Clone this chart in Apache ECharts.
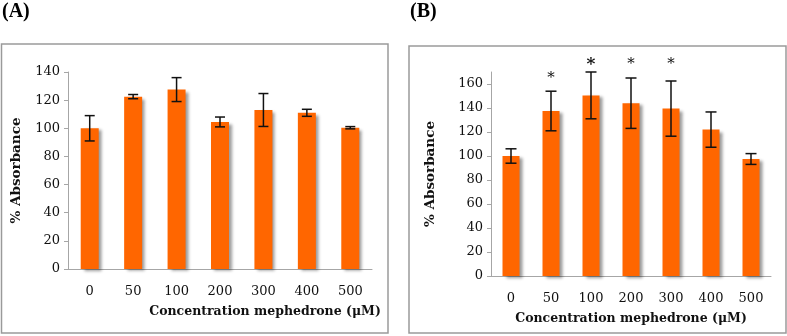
<!DOCTYPE html>
<html>
<head>
<meta charset="utf-8">
<script src="https://cdn.jsdelivr.net/npm/echarts@6/dist/echarts.min.js"></script>
<style>
html,body{margin:0;padding:0;background:#fff;}
#chart{width:787px;height:336px;}
</style>
</head>
<body>
<div id="chart"></div>
<script>
const categories = ['0', '50', '100', '200', '300', '400', '500'];
const valuesA = [100, 122.5, 127.5, 104.5, 113, 111, 100.4];
const errorsA = [9, 1.5, 8.5, 3.5, 11.7, 2.5, 0.8];
const valuesB = [100, 137.5, 150.5, 144, 139.5, 122, 97.5];
const errorsB = [6, 16.5, 19.5, 21, 23, 14.7, 4.5];
const starPosB = [null, 164.5, 176.5, 176.5, 176.5, null, null];
const yTicksA = { min: 0, max: 140, interval: 20 };
const yTicksB = { min: 0, max: 170, interval: 20 };
const panelLabels = ['(A)', '(B)'];
const xTitle = 'Concentration mephedrone (μM)';
const yTitle = '% Absorbance';

const orange = '#FF6600';
const axisGrey = '#a6a6a6';
const serif = 'DejaVu Serif';

function errData(vals, errs) {
  return vals.map((v, i) => [i, v - errs[i], v + errs[i]]);
}
function errRender(capHalf) {
  return function (params, api) {
    const x = api.value(0);
    const lo = api.coord([x, api.value(1)]);
    const hi = api.coord([x, api.value(2)]);
    const st = { stroke: '#111', lineWidth: 1.5 };
    return {
      type: 'group',
      children: [
        { type: 'line', shape: { x1: lo[0], y1: lo[1], x2: hi[0], y2: hi[1] }, style: st },
        { type: 'line', shape: { x1: lo[0] - capHalf, y1: lo[1], x2: lo[0] + capHalf, y2: lo[1] }, style: st },
        { type: 'line', shape: { x1: hi[0] - capHalf, y1: hi[1], x2: hi[0] + capHalf, y2: hi[1] }, style: st }
      ]
    };
  };
}

function xAxisCfg(gridIndex, pad) {
  return {
    type: 'category', gridIndex, data: categories,
    axisLine: { lineStyle: { color: axisGrey, width: 1 } },
    axisTick: { show: false },
    axisLabel: { color: '#111', fontFamily: serif, fontSize: 13, margin: 16 },
    name: xTitle, nameLocation: 'middle', nameGap: 36,
    nameTextStyle: { fontFamily: serif, fontWeight: 'bold', fontSize: 12.5, color: '#111', padding: pad }
  };
}
function yAxisCfg(gridIndex, t, gap) {
  return {
    type: 'value', gridIndex, min: t.min, max: t.max, interval: t.interval,
    splitLine: { show: false },
    axisLine: { show: true, lineStyle: { color: axisGrey, width: 1 } },
    axisTick: { show: true, length: 4, lineStyle: { color: axisGrey } },
    axisLabel: { color: '#111', fontFamily: serif, fontSize: 13, margin: 8, showMaxLabel: t.max % t.interval === 0 },
    name: yTitle, nameLocation: 'middle', nameGap: gap, nameRotate: 90,
    nameTextStyle: { fontFamily: serif, fontWeight: 'bold', fontSize: 13.5, color: '#111' }
  };
}
const barStyle = {
  color: orange,
  shadowColor: 'rgba(0,0,0,0.4)', shadowBlur: 3, shadowOffsetX: 3, shadowOffsetY: 2
};

const chart = echarts.init(document.getElementById('chart'), null, { renderer: 'canvas' });
chart.setOption({
  animation: false,
  backgroundColor: '#fff',
  grid: [
    { left: 68, right: 415, top: 72, bottom: 67 },
    { left: 491, right: 16, top: 72, bottom: 60 }
  ],
  xAxis: [xAxisCfg(0, [0, 0, 0, 90]), xAxisCfg(1, [0, 0, 0, 0])],
  yAxis: [yAxisCfg(0, yTicksA, 45), yAxisCfg(1, yTicksB, 54)],
  graphic: [
    { type: 'rect', shape: { x: 1.5, y: 44, width: 386.5, height: 289 }, style: { fill: null, stroke: '#9a9a9a', lineWidth: 1.5 }, z: -1 },
    { type: 'rect', shape: { x: 409, y: 46, width: 377, height: 287 }, style: { fill: null, stroke: '#9a9a9a', lineWidth: 1.5 }, z: -1 },
    { type: 'text', left: 2, top: 2, style: { text: panelLabels[0], font: 'bold 20px "Liberation Serif"', fill: '#000' } },
    { type: 'text', left: 410, top: 2, style: { text: panelLabels[1], font: 'bold 20px "Liberation Serif"', fill: '#000' } }
  ],
  series: [
    { type: 'bar', xAxisIndex: 0, yAxisIndex: 0, data: valuesA, barWidth: 18, itemStyle: barStyle },
    { type: 'custom', xAxisIndex: 0, yAxisIndex: 0, data: errData(valuesA, errorsA), renderItem: errRender(5), z: 5 },
    { type: 'bar', xAxisIndex: 1, yAxisIndex: 1, data: valuesB, barWidth: 17, itemStyle: barStyle },
    { type: 'custom', xAxisIndex: 1, yAxisIndex: 1, data: errData(valuesB, errorsB), renderItem: errRender(5.5), z: 5 },
    {
      type: 'custom', xAxisIndex: 1, yAxisIndex: 1, clip: false, z: 6,
      data: starPosB.map((v, i) => [i, v]).filter(d => d[1] !== null),
      renderItem: function (params, api) {
        const p = api.coord([api.value(0), api.value(1)]);
        const big = params.dataIndex === 1;
        return { type: 'text', x: p[0], y: p[1], style: { text: '*', font: (big ? 'bold 17px' : '15px') + ' "DejaVu Serif"', fill: '#111', align: 'center', verticalAlign: 'middle' } };
      }
    }
  ]
});
</script>
</body>
</html>
